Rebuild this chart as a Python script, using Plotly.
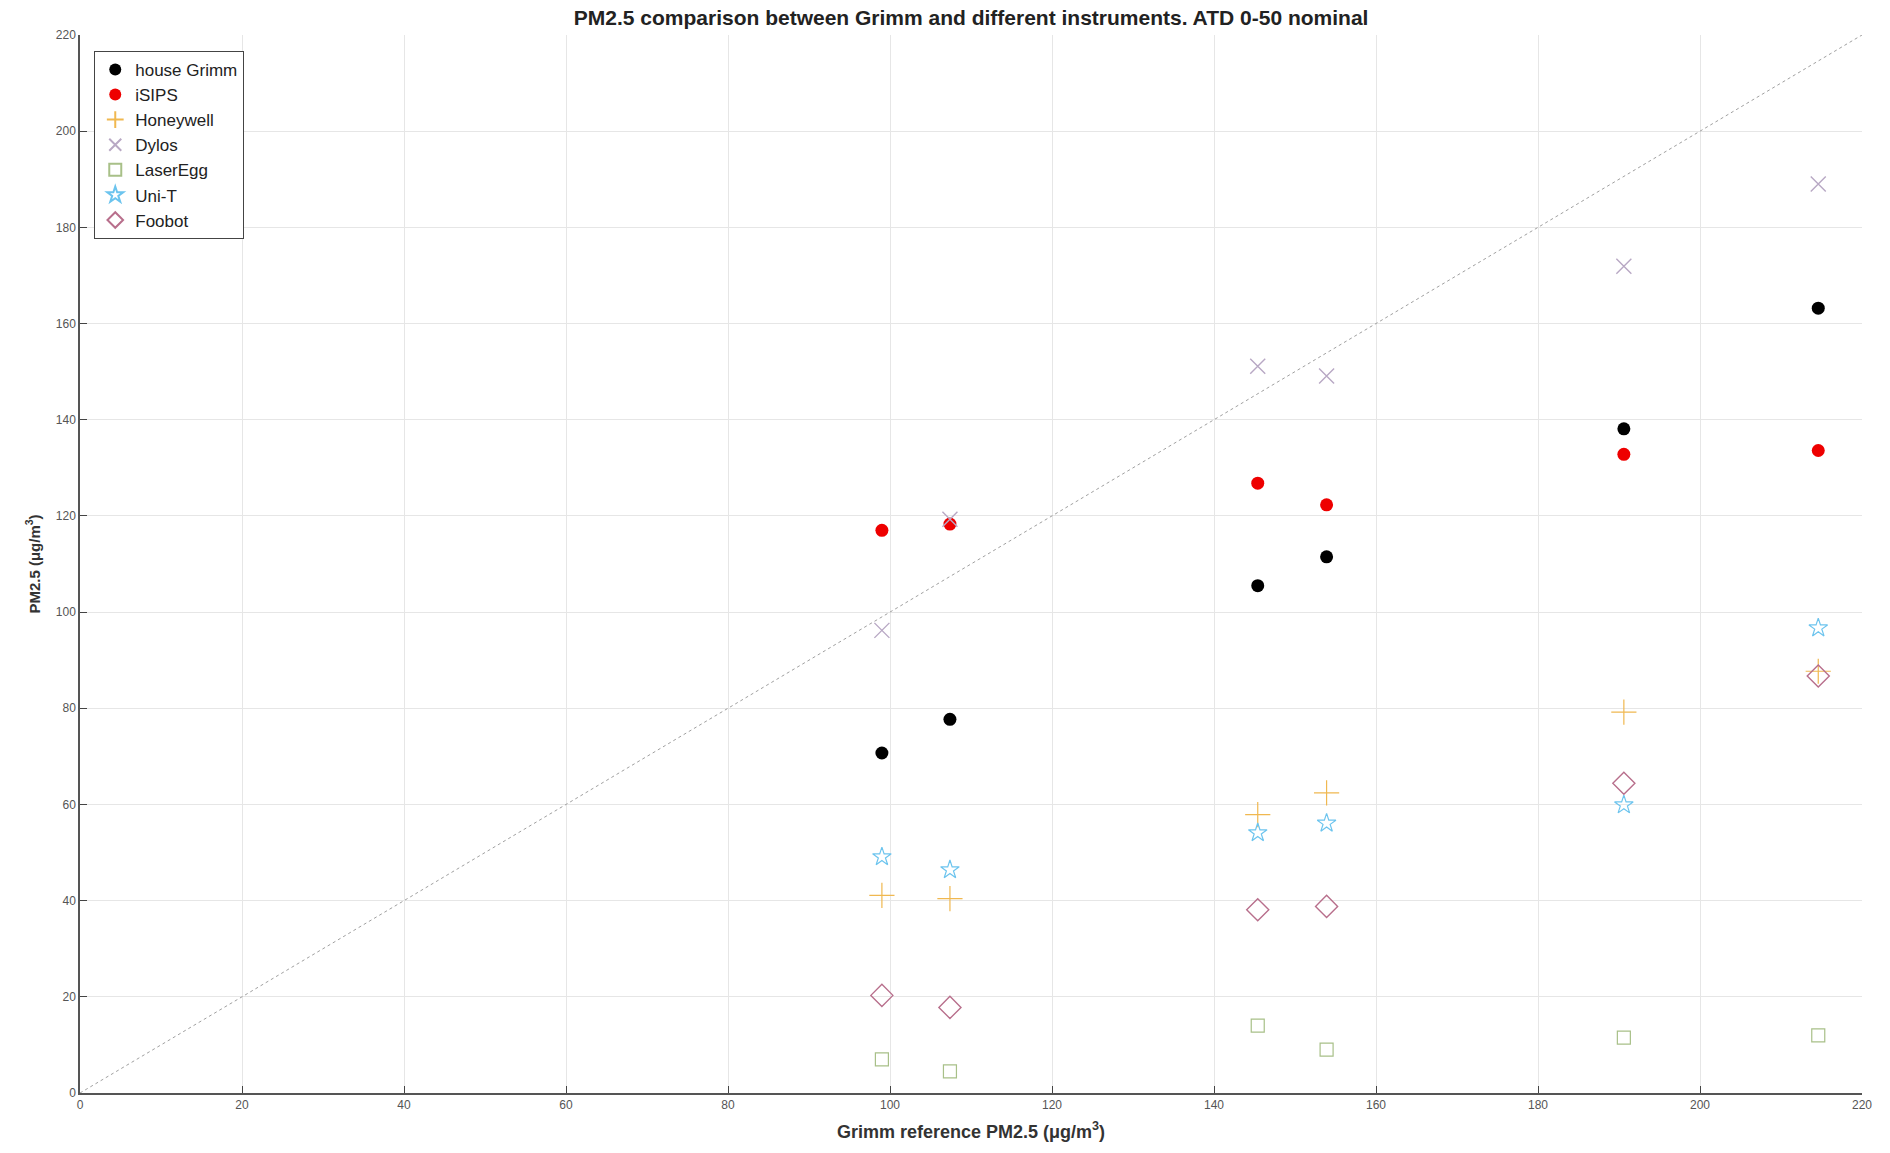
import plotly.graph_objects as go

grimm_ref = [99.0, 107.4, 145.4, 153.9, 190.6, 214.6]

house_grimm = [70.7, 77.7, 105.5, 111.5, 138.1, 163.2]
isips = [117.0, 118.3, 126.8, 122.3, 132.8, 133.6]
honeywell = [41.1, 40.4, 57.9, 62.4, 79.2, 87.7]
dylos = [96.2, 119.3, 151.1, 149.1, 171.9, 189.0]
laseregg = [7.0, 4.5, 14.0, 9.0, 11.5, 12.0]
unit = [49.1, 46.4, 54.1, 56.1, 59.9, 96.7]
foobot = [20.3, 17.8, 38.1, 38.8, 64.4, 86.7]

identity = [0, 220]

series = [
    ("house Grimm", house_grimm, dict(symbol="circle", size=13, color="#000000")),
    ("iSIPS", isips, dict(symbol="circle", size=13, color="#ee0000")),
    ("Honeywell", honeywell, dict(symbol="cross-thin", size=18, color="rgba(0,0,0,0)",
                                  line=dict(color="#f0b850", width=1.2))),
    ("Dylos", dylos, dict(symbol="x-thin", size=15, color="rgba(0,0,0,0)",
                          line=dict(color="#b8a8c4", width=1.4))),
    ("LaserEgg", laseregg, dict(symbol="square-open", size=13,
                                color="#a8c088", line=dict(width=1.2))),
    ("Uni-T", unit, dict(symbol="star-open", size=14, color="#6cc4ee", line=dict(width=1.2))),
    ("Foobot", foobot, dict(symbol="diamond-open", size=17, color="#b86f8c",
                            line=dict(width=1.4))),
]

fig = go.Figure()
fig.add_trace(go.Scatter(x=identity, y=identity, mode="lines",
                         line=dict(color="#a0a0a0", width=1, dash="dot"),
                         showlegend=False, hoverinfo="skip"))
for name, vals, marker in series:
    fig.add_trace(go.Scatter(x=grimm_ref, y=vals, mode="markers", name=name, marker=marker))

axis_common = dict(
    range=[0, 220], dtick=20, tick0=0,
    showgrid=True, gridcolor="#e6e6e6", gridwidth=1,
    zeroline=False, showline=True, linecolor="#555555", linewidth=1.5,
    ticks="inside", ticklen=7, tickcolor="#444444",
    tickfont=dict(family="Liberation Sans, Arial", size=12, color="#555555"),
)

fig.update_layout(
    width=1890, height=1153,
    paper_bgcolor="white", plot_bgcolor="white",
    margin=dict(l=80, r=28, t=35, b=60),
    title=dict(text="<b>PM2.5 comparison between Grimm and different instruments. ATD 0-50 nominal</b>",
               x=0.5138, xanchor="center", y=0.985, yanchor="middle",
               font=dict(family="Liberation Sans, Arial", size=21, color="#222222")),
    xaxis=dict(**axis_common,
               title=dict(text="<b>Grimm reference PM2.5 (μg/m<sup>3</sup>)</b>", standoff=14,
                          font=dict(family="Liberation Sans, Arial", size=18, color="#333333"))),
    yaxis=dict(**axis_common,
               title=dict(text="<b>PM2.5 (μg/m<sup>3</sup>)</b>", standoff=12,
                          font=dict(family="Liberation Sans, Arial", size=15, color="#333333"))),
    legend=dict(x=0.008, y=0.985, xanchor="left", yanchor="top",
                bgcolor="white", bordercolor="#444444", borderwidth=1,
                font=dict(family="Liberation Sans, Arial", size=17, color="#222222"),
                tracegroupgap=0, itemsizing="constant"),
    hovermode=False,
)

fig.write_html("out.html")
